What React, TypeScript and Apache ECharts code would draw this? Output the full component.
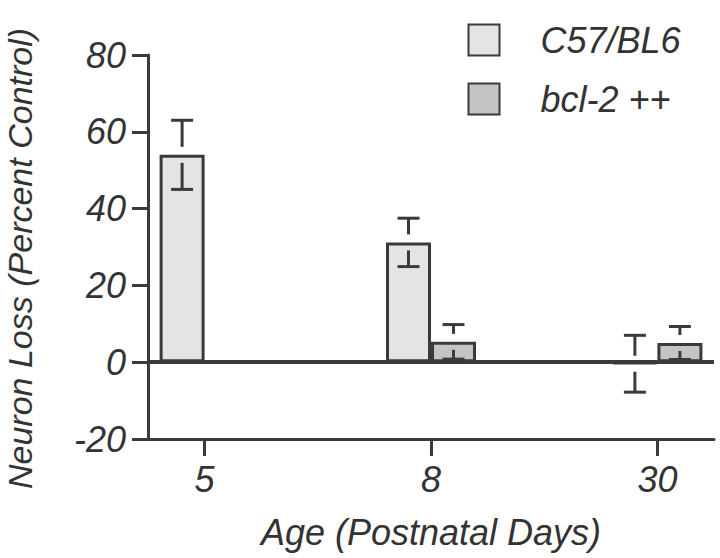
import React, { useEffect, useRef } from "react";
import * as echarts from "echarts";

const categories = ["5", "8", "30"];
const categoryPositions = [0, 1, 2];
const seriesNames = ["C57/BL6", "bcl-2 ++"];
const c57Means = [54, 31.2, -0.4];
const c57Errors = [9, 6.3, 7.4];
const bclMeans = [0, 5.3, 5];
const bclErrors = [0, 4.5, 4.3];

const yMin = -20;
const yMax = 80;
const yInterval = 20;

const FONT = "'Liberation Sans', Arial, sans-serif";
const INK = "#3a3a3a";
const TEXT = "#333333";
const BAR_W = 45;

function errorSeries(name: string, means: number[], errs: number[], sign: number) {
  return {
    name,
    type: "custom",
    z: 5,
    silent: true,
    encode: { x: 0, y: 1 },
    data: means.map((m, i) => [categoryPositions[i], m, errs[i]]),
    renderItem: (params: any, api: any) => {
      const i = api.value(0);
      const m = api.value(1);
      const e = api.value(2);
      if (!e) return null;
      const c = api.coord([i, m]);
      const x = c[0] + sign * (BAR_W / 2);
      const cy = c[1];
      const top = api.coord([i, m + e])[1];
      const bot = api.coord([i, m - e])[1];
      const gap = 8;
      const style = { stroke: INK, lineWidth: 3 };
      return {
        type: "group",
        children: [
          { type: "line", shape: { x1: x, y1: top, x2: x, y2: cy - gap }, style },
          { type: "line", shape: { x1: x - 11, y1: top, x2: x + 11, y2: top }, style },
          { type: "line", shape: { x1: x, y1: cy + gap, x2: x, y2: bot }, style },
          { type: "line", shape: { x1: x - 11, y1: bot, x2: x + 11, y2: bot }, style },
        ],
      };
    },
  };
}

export default function App() {
  const ref = useRef<HTMLDivElement>(null);

  useEffect(() => {
    if (!ref.current) return;
    const chart = echarts.init(ref.current, null, { renderer: "svg" });
    const labelStyle = { fontFamily: FONT, fontStyle: "italic", fontSize: 36, color: TEXT };
    chart.setOption({
      animation: false,
      backgroundColor: "#ffffff",
      grid: { left: 148, right: 6, top: 55, bottom: 119, containLabel: false },
      legend: {
        data: seriesNames,
        orient: "vertical",
        left: 467.5,
        top: 22,
        icon: "rect",
        itemWidth: 31,
        itemHeight: 31,
        itemGap: 23,
        padding: 0,
        selectedMode: false,
        textStyle: { ...labelStyle, lineHeight: 34, padding: [0, 0, 0, 36] },
      },
      xAxis: {
        type: "value",
        min: -0.25,
        max: 2.25,
        splitLine: { show: false },
        axisLine: { show: true, onZero: false, lineStyle: { color: INK, width: 3 } },
        axisTick: {
          show: true,
          length: 17,
          customValues: categoryPositions,
          lineStyle: { color: INK, width: 3 },
        },
        axisLabel: {
          ...labelStyle,
          margin: 22,
          customValues: categoryPositions,
          formatter: (v: number) => categories[Math.round(v)] ?? "",
        },
        name: "Age (Postnatal Days)",
        nameLocation: "middle",
        nameGap: 75,
        nameTextStyle: { ...labelStyle },
      },
      yAxis: {
        type: "value",
        min: yMin,
        max: yMax,
        interval: yInterval,
        splitLine: { show: false },
        axisLine: { show: true, onZero: false, lineStyle: { color: INK, width: 3 } },
        axisTick: { show: true, length: 16, lineStyle: { color: INK, width: 3 } },
        axisLabel: { ...labelStyle, margin: 22 },
      },
      graphic: [
        {
          type: "text",
          x: 20,
          y: 489,
          rotation: Math.PI / 2,
          style: {
            text: "Neuron Loss (Percent Control)",
            font: `italic 34px ${FONT}`,
            fill: TEXT,
            textAlign: "left",
            textVerticalAlign: "middle",
          },
        },
      ],
      series: [
        {
          name: seriesNames[0],
          type: "bar",
          barWidth: BAR_W,
          barGap: "0%",
          data: c57Means.map((v, i) => [categoryPositions[i], v]),
          itemStyle: { color: "#e4e4e4", borderColor: INK, borderWidth: 3 },
          markLine: {
            silent: true,
            symbol: ["none", "none"],
            label: { show: false },
            lineStyle: { color: INK, width: 4, type: "solid" },
            data: [{ yAxis: 0 }],
          },
        },
        {
          name: seriesNames[1],
          type: "bar",
          barWidth: BAR_W,
          barGap: "0%",
          data: bclMeans.map((v, i) => [categoryPositions[i], v]),
          itemStyle: { color: "#c4c4c4", borderColor: INK, borderWidth: 3 },
        },
        errorSeries("err-c57", c57Means, c57Errors, -1),
        errorSeries("err-bcl", bclMeans, bclErrors, 1),
      ],
    });
    return () => chart.dispose();
  }, []);

  return (
    <div
      ref={ref}
      style={{ position: "absolute", left: 0, top: 0, width: 720, height: 558 }}
    />
  );
}
